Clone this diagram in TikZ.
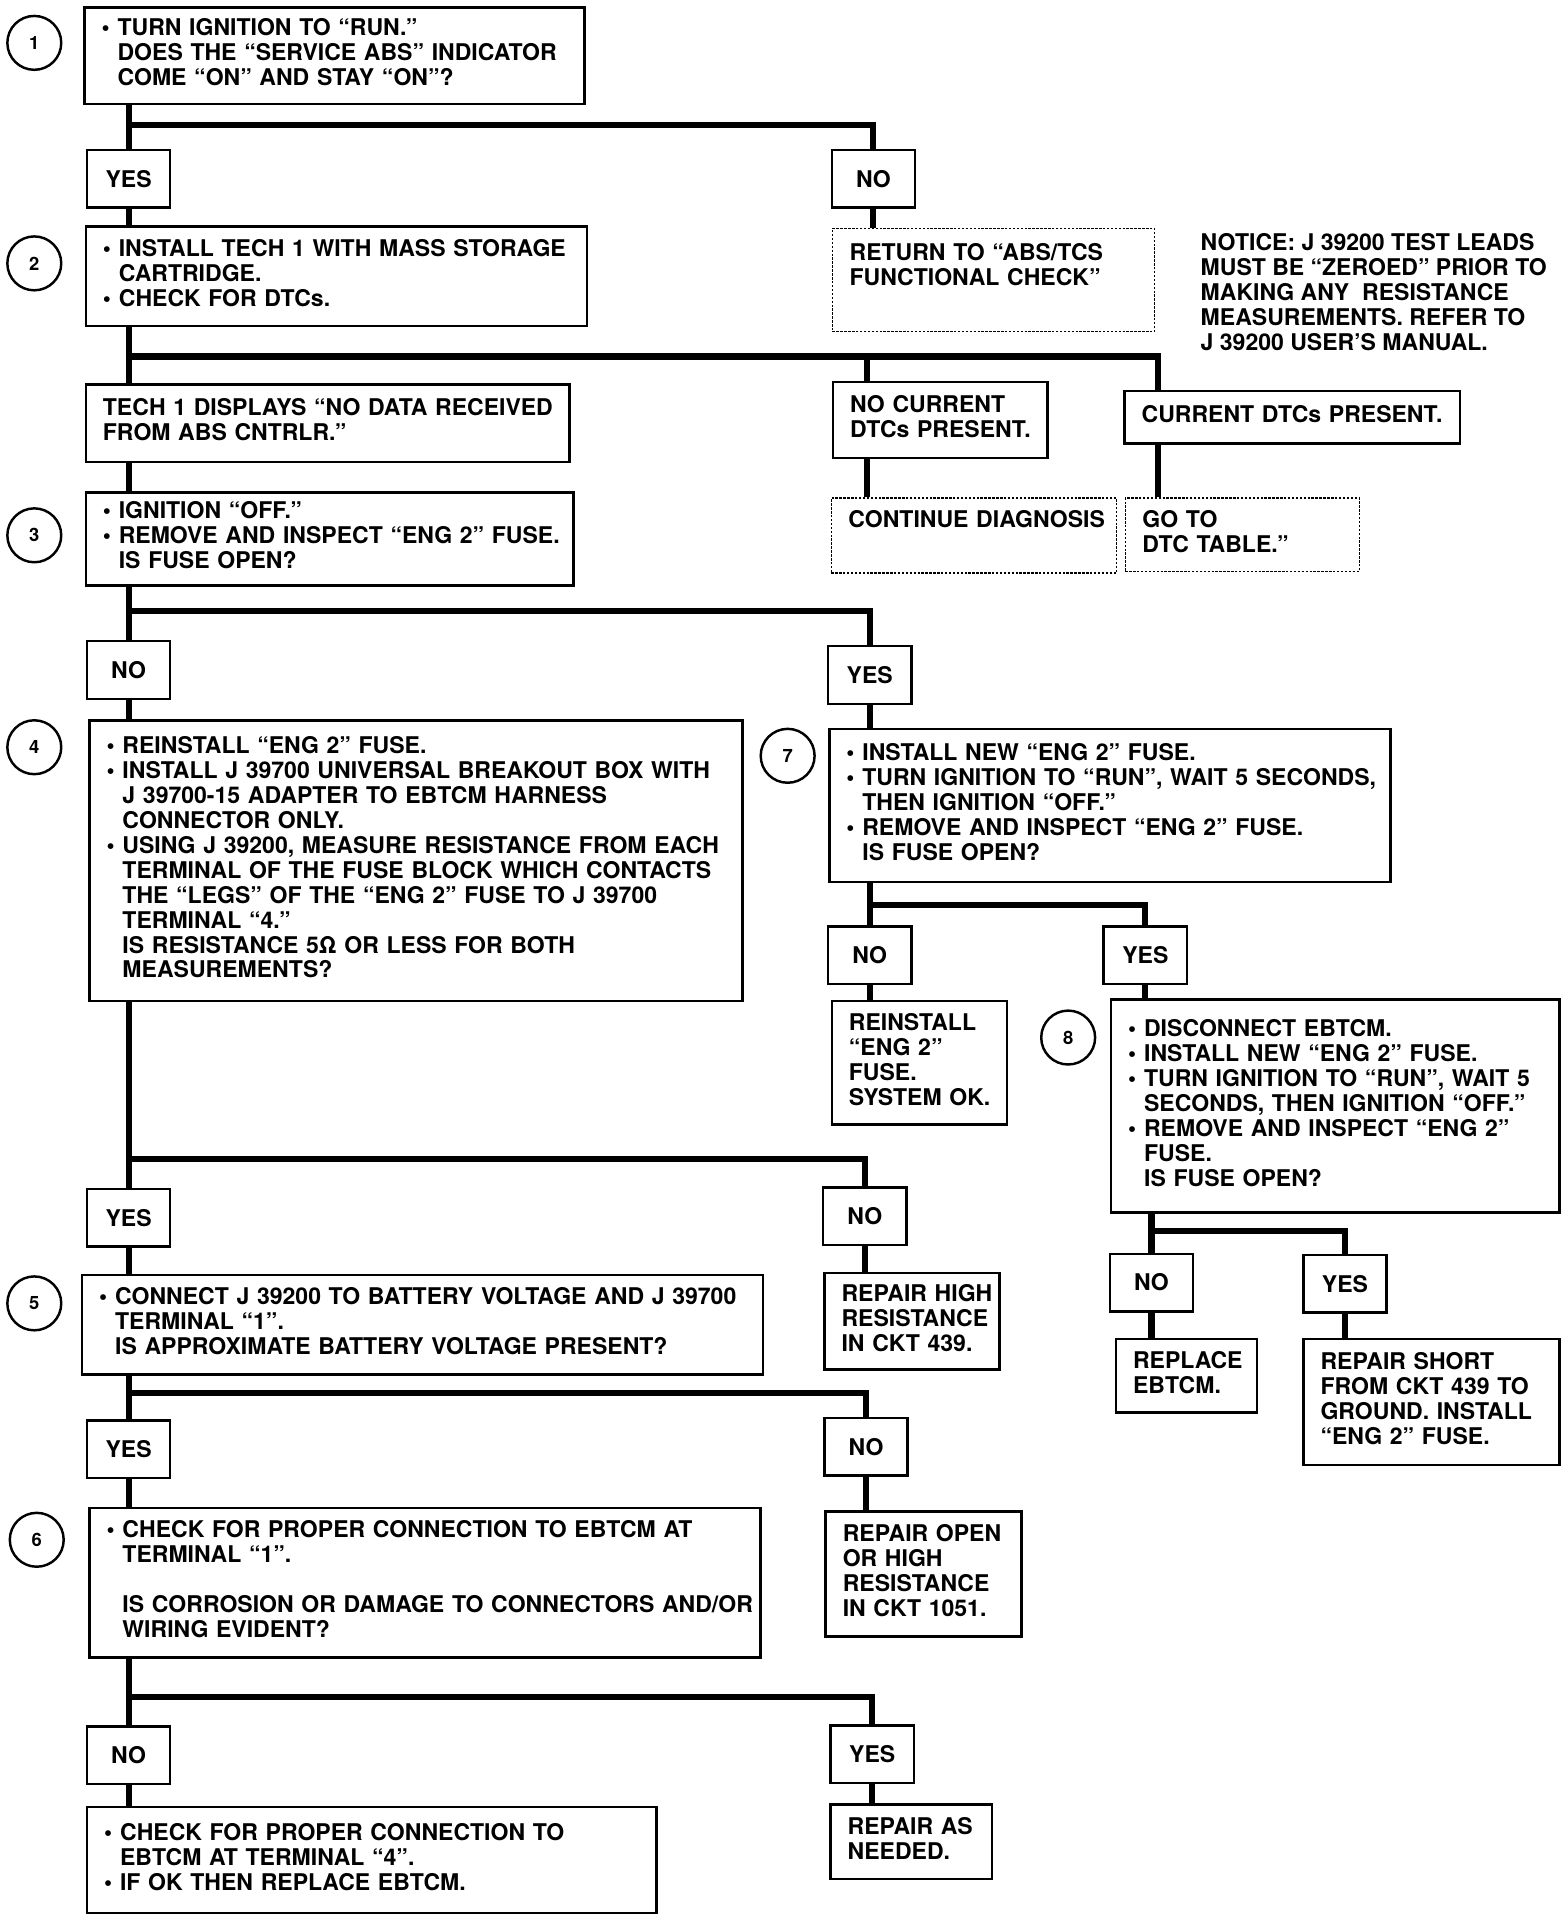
\documentclass[tikz,border=0pt]{standalone}
\usepackage{fontspec}
\setmainfont{TeX Gyre Heros}
\usetikzlibrary{positioning}
\newcommand{\chkfont}{\fontsize{18.8}{20.4}\selectfont\bfseries}
\newcommand{\stepfont}{\fontsize{15}{15}\selectfont\bfseries}
\newcommand{\bitem}{\makebox[13pt][l]{\textbullet}}
\newcommand{\bcont}{\hspace*{13pt}}
\newcommand{\rows}[1]{\begin{tabular}{@{}l@{}}#1\end{tabular}}
\tikzstyle{check} = [rectangle, draw=black, line width=2pt, anchor=north west, inner xsep=14pt, inner ysep=0pt, align=left, font=\chkfont]
\tikzstyle{pointer} = [check, line width=1.2pt, dash pattern=on 2pt off 1.2pt]
\tikzstyle{answer} = [rectangle, draw=black, line width=2pt, minimum width=68pt, minimum height=47pt, inner sep=0pt, font=\chkfont]
\tikzstyle{stepno} = [circle, draw=black, line width=2pt, minimum size=44pt, inner sep=0pt, font=\stepfont]
\tikzstyle{notice} = [anchor=west, inner sep=0pt, align=left, font=\chkfont]
\tikzstyle{link} = [line width=5pt]
\begin{document}
\begin{tikzpicture}[x=1pt, y=-1pt]
\useasboundingbox (0,0) rectangle (1280,1562.5);
% step numbers
\node[stepno] (c1) at (28,35) {1};
\node[stepno] (c2) at (28,215) {2};
\node[stepno] (c3) at (28,437) {3};
\node[stepno] (c4) at (28,610) {4};
\node[stepno] (c5) at (28,1064) {5};
\node[stepno] (c6) at (30,1257) {6};
\node[stepno] (c7) at (643,617) {7};
\node[stepno] (c8) at (872,847) {8};
% questions
\node[check, text width=380pt, minimum height=79pt] (q1) at (68,5) {\rows{\bitem TURN IGNITION TO “RUN.”\\ \bcont DOES THE “SERVICE ABS” INDICATOR\\ \bcont COME “ON” AND STAY “ON”?}};
\node[check, text width=381pt, minimum height=81pt] (q2) at (69,184) {\rows{\bitem INSTALL TECH 1 WITH MASS STORAGE\\ \bcont CARTRIDGE.\\ \bitem CHECK FOR DTCs.}};
\node[check, text width=370pt, minimum height=76pt] (q3) at (69,401) {\rows{\bitem IGNITION “OFF.”\\ \bitem REMOVE AND INSPECT “ENG 2” FUSE.\\ \bcont IS FUSE OPEN?}};
\node[check, text width=505pt, minimum height=229pt] (q4) at (72,587) {\rows{\bitem REINSTALL “ENG 2” FUSE.\\ \bitem INSTALL J 39700 UNIVERSAL BREAKOUT BOX WITH\\ \bcont J 39700-15 ADAPTER TO EBTCM HARNESS\\ \bcont CONNECTOR ONLY.\\ \bitem USING J 39200, MEASURE RESISTANCE FROM EACH\\ \bcont TERMINAL OF THE FUSE BLOCK WHICH CONTACTS\\ \bcont THE “LEGS” OF THE “ENG 2” FUSE TO J 39700\\ \bcont TERMINAL “4.”\\ \bcont IS RESISTANCE 5Ω OR LESS FOR BOTH\\ \bcont MEASUREMENTS?}};
\node[check, text width=528pt, minimum height=81pt] (q5) at (66,1040) {\rows{\bitem CONNECT J 39200 TO BATTERY VOLTAGE AND J 39700\\ \bcont TERMINAL “1”.\\ \bcont IS APPROXIMATE BATTERY VOLTAGE PRESENT?}};
\node[check, text width=520pt, minimum height=122pt] (q6) at (72,1230) {\rows{\bitem CHECK FOR PROPER CONNECTION TO EBTCM AT\\ \bcont TERMINAL “1”.\\ \mbox{}\\ \bcont IS CORROSION OR DAMAGE TO CONNECTORS AND/OR\\ \bcont WIRING EVIDENT?}};
\node[check, text width=430pt, minimum height=125pt] (q7) at (676,594) {\rows{\bitem INSTALL NEW “ENG 2” FUSE.\\ \bitem TURN IGNITION TO “RUN”, WAIT 5 SECONDS,\\ \bcont THEN IGNITION “OFF.”\\ \bitem REMOVE AND INSPECT “ENG 2” FUSE.\\ \bcont IS FUSE OPEN?}};
\node[check, text width=338pt, minimum height=174pt] (q8) at (906,815) {\rows{\bitem DISCONNECT EBTCM.\\ \bitem INSTALL NEW “ENG 2” FUSE.\\ \bitem TURN IGNITION TO “RUN”, WAIT 5\\ \bcont SECONDS, THEN IGNITION “OFF.”\\ \bitem REMOVE AND INSPECT “ENG 2”\\ \bcont FUSE.\\ \bcont IS FUSE OPEN?}};
% outcomes
\node[pointer, text width=235pt, minimum height=84pt] (r1) at (679,186) {\rows{RETURN TO “ABS/TCS\\ FUNCTIONAL CHECK”\\ \mbox{}}};
\node[check, text width=367pt, minimum height=63pt] (t2) at (69,313) {\rows{TECH 1 DISPLAYS “NO DATA RECEIVED\\ FROM ABS CNTRLR.”}};
\node[check, text width=147pt, minimum height=62pt] (d2) at (679,311) {\rows{NO CURRENT\\ DTCs PRESENT.}};
\node[check, text width=246pt, minimum height=43pt] (e2) at (917,318) {\rows{CURRENT DTCs PRESENT.}};
\node[pointer, text width=205pt, minimum height=61pt] (g2) at (678,406) {\rows{CONTINUE DIAGNOSIS\\ \mbox{}}};
\node[pointer, text width=163pt, minimum height=60pt] (h2) at (918,406) {\rows{GO TO\\ DTC TABLE.”}};
\node[check, text width=115pt, minimum height=101pt] (r7) at (678,816) {\rows{REINSTALL\\ “ENG 2”\\ FUSE.\\ SYSTEM OK.}};
\node[check, text width=87pt, minimum height=60pt] (r8) at (910,1092) {\rows{REPLACE\\ EBTCM.}};
\node[check, text width=181pt, minimum height=103pt] (s8) at (1063,1092) {\rows{REPAIR SHORT\\ FROM CKT 439 TO\\ GROUND. INSTALL\\ “ENG 2” FUSE.}};
\node[check, text width=115pt, minimum height=79pt] (r4) at (672,1038) {\rows{REPAIR HIGH\\ RESISTANCE\\ IN CKT 439.}};
\node[check, text width=132pt, minimum height=102pt] (r5) at (673,1233) {\rows{REPAIR OPEN\\ OR HIGH\\ RESISTANCE\\ IN CKT 1051.}};
\node[check, text width=437pt, minimum height=87pt] (r6) at (70,1474) {\rows{\bitem CHECK FOR PROPER CONNECTION TO\\ \bcont EBTCM AT TERMINAL “4”.\\ \bitem IF OK THEN REPLACE EBTCM.}};
\node[check, text width=104pt, minimum height=61pt] (s6) at (677,1472) {\rows{REPAIR AS\\ NEEDED.}};
\node[notice] (nt) at (980,241) {\rows{NOTICE: J 39200 TEST LEADS\\ MUST BE “ZEROED” PRIOR TO\\ MAKING ANY\ \ RESISTANCE\\ MEASUREMENTS. REFER TO\\ J 39200 USER’S MANUAL.}};
% answers
\node[answer] (y1) at (105,146) {YES};
\node[answer] (n1) at (713,146) {NO};
\node[answer] (n3) at (105,547) {NO};
\node[answer] (y3) at (710,551) {YES};
\node[answer] (n7) at (710,780) {NO};
\node[answer] (y7) at (935,780) {YES};
\node[answer] (n8) at (940,1047) {NO};
\node[answer] (y8) at (1098,1048) {YES};
\node[answer] (y4) at (105,994) {YES};
\node[answer] (n4) at (706,993) {NO};
\node[answer] (y5) at (105,1183) {YES};
\node[answer] (n5) at (707,1181) {NO};
\node[answer] (n6) at (105,1433) {NO};
\node[answer] (y6) at (712,1432) {YES};
% junctions
\coordinate (j1) at (105,102);
\coordinate (j2) at (105,291);
\coordinate (k2) at (708,291);
\coordinate (m2) at (945,291);
\coordinate (j3) at (105,499);
\coordinate (j7) at (710,739);
\coordinate (j8) at (940,1005);
\coordinate (j4) at (105,946);
\coordinate (j5) at (105,1137);
\coordinate (j6) at (105,1385);
% main line
\draw[link] (y1 |- q1.south) -- (y1.north);
\draw[link] (y1.south) -- (y1 |- q2.north);
\draw[link] (y1 |- q2.south) -- (y1 |- t2.north);
\draw[link] (y1 |- t2.south) -- (y1 |- q3.north);
\draw[link] (n3 |- q3.south) -- (n3.north);
\draw[link] (n3.south) -- (n3 |- q4.north);
\draw[link] (y4 |- q4.south) -- (y4.north);
\draw[link] (y4.south) -- (y4 |- q5.north);
\draw[link] (y5 |- q5.south) -- (y5.north);
\draw[link] (y5.south) -- (y5 |- q6.north);
\draw[link] (n6 |- q6.south) -- (n6.north);
\draw[link] (n6.south) -- (n6 |- r6.north);
% branches
\draw[link] (j1) -| (n1.north);
\draw[link] (n1.south) -- (n1 |- r1.north);
\draw[link] (j2) -- (m2) -- (m2 |- e2.north);
\draw[link] (k2) -- (k2 |- d2.north);
\draw[link] (k2 |- d2.south) -- (k2 |- g2.north);
\draw[link] (m2 |- e2.south) -- (m2 |- h2.north);
\draw[link] (j3) -| (y3.north);
\draw[link] (y3.south) -- (y3 |- q7.north);
\draw[link] (n7 |- q7.south) -- (n7.north);
\draw[link] (j7) -| (y7.north);
\draw[link] (n7.south) -- (n7 |- r7.north);
\draw[link] (y7.south) -- (y7 |- q8.north);
\draw[link] (n8 |- q8.south) -- (n8.north);
\draw[link] (j8) -| (y8.north);
\draw[link] (n8.south) -- (n8 |- r8.north);
\draw[link] (y8.south) -- (y8 |- s8.north);
\draw[link] (j4) -| (n4.north);
\draw[link] (n4.south) -- (n4 |- r4.north);
\draw[link] (j5) -| (n5.north);
\draw[link] (n5.south) -- (n5 |- r5.north);
\draw[link] (j6) -| (y6.north);
\draw[link] (y6.south) -- (y6 |- s6.north);
\end{tikzpicture}
\end{document}
